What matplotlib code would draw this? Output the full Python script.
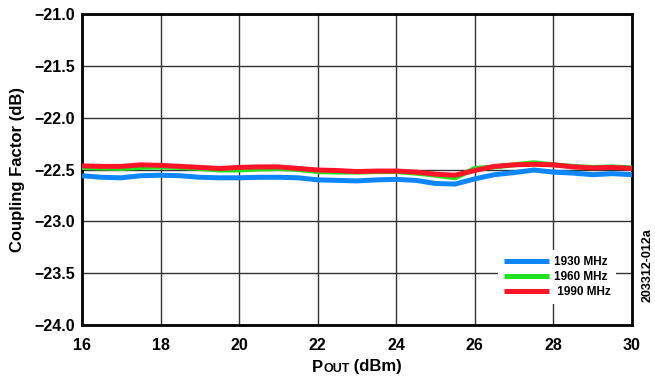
import matplotlib
matplotlib.use("Agg")
import matplotlib.pyplot as plt
from matplotlib import font_manager
from matplotlib.offsetbox import TextArea, HPacker, AnchoredOffsetbox

# Pick a narrow bold sans if present
available = {f.name for f in font_manager.fontManager.ttflist}
FAMILY = "Liberation Sans Narrow" if "Liberation Sans Narrow" in available else "Liberation Sans"
plt.rcParams["font.family"] = [FAMILY, "DejaVu Sans"]
plt.rcParams["font.weight"] = "bold"

pout_dbm = [16, 16.5, 17, 17.5, 18, 18.5, 19, 19.5, 20, 20.5, 21, 21.5, 22, 22.5,
            23, 23.5, 24, 24.5, 25, 25.5, 26, 26.5, 27, 27.5, 28, 28.5, 29, 29.5, 30]

cf_1930 = [-22.56, -22.575, -22.58, -22.56, -22.555, -22.56, -22.575, -22.58, -22.58,
           -22.575, -22.575, -22.58, -22.60, -22.605, -22.61, -22.60, -22.595, -22.605,
           -22.635, -22.64, -22.59, -22.55, -22.53, -22.505, -22.525, -22.535, -22.55,
           -22.54, -22.55]
cf_1960 = [-22.48, -22.485, -22.49, -22.48, -22.475, -22.48, -22.49, -22.505, -22.505,
           -22.495, -22.49, -22.50, -22.52, -22.525, -22.525, -22.52, -22.52, -22.535,
           -22.555, -22.58, -22.49, -22.475, -22.455, -22.435, -22.455, -22.47, -22.48,
           -22.475, -22.485]
cf_1990 = [-22.465, -22.47, -22.47, -22.455, -22.46, -22.47, -22.48, -22.49, -22.48,
           -22.475, -22.475, -22.49, -22.505, -22.51, -22.52, -22.515, -22.515, -22.525,
           -22.545, -22.555, -22.51, -22.47, -22.455, -22.45, -22.455, -22.475, -22.485,
           -22.48, -22.49]

series_labels = ["1930 MHz", "1960 MHz", " 1990 MHz"]
series_colors = ["#0d86ff", "#1fe31f", "#ff1428"]

x_ticks = [16, 18, 20, 22, 24, 26, 28, 30]
y_ticks = [-21.0, -21.5, -22.0, -22.5, -23.0, -23.5, -24.0]
y_ticklabels = ["\u221221.0", "\u221221.5", "\u221222.0", "\u221222.5",
                "\u221223.0", "\u221223.5", "\u221224.0"]

fig = plt.figure(figsize=(6.55, 3.85), dpi=100)
ax = fig.add_axes([82 / 655, 1 - 325 / 385, 550 / 655, 311 / 385])

for vals, lab, col in zip([cf_1930, cf_1960, cf_1990], series_labels, series_colors):
    ax.plot(pout_dbm, vals, color=col, lw=3.6, label=lab, solid_capstyle="butt",
            solid_joinstyle="round", zorder=3)

ax.set_xlim(16, 30)
ax.set_ylim(-24, -21)
ax.set_xticks(x_ticks)
ax.set_yticks(y_ticks)
ax.set_yticklabels(y_ticklabels)
ax.tick_params(length=0, labelsize=11.5)
ax.tick_params(axis="x", pad=9)
ax.tick_params(axis="y", pad=5)
for lbl in ax.get_xticklabels() + ax.get_yticklabels():
    lbl.set_fontweight("bold")

ax.grid(True, color="#333333", lw=1.0, zorder=1)
for sp in ax.spines.values():
    sp.set_linewidth(2.0)
    sp.set_color("black")

ax.set_ylabel("Coupling Factor (dB)", fontsize=12, fontweight="bold", labelpad=7)

leg = ax.legend(loc="lower right", bbox_to_anchor=(0.982, 0.05), frameon=True,
                fancybox=False, edgecolor="none", framealpha=1.0,
                prop={"size": 8.5, "weight": "bold"}, handlelength=3.8,
                handletextpad=0.4, labelspacing=0.25, borderpad=0.5)
leg.set_zorder(4)

# x-axis label with small-capital "OUT"
parts = [TextArea("P", textprops=dict(size=12, weight="bold")),
         TextArea("OUT", textprops=dict(size=9, weight="bold")),
         TextArea(" (dBm)", textprops=dict(size=12, weight="bold"))]
box = HPacker(children=parts, align="baseline", pad=0, sep=0)
anchored = AnchoredOffsetbox(loc="center", child=box, frameon=False,
                             bbox_to_anchor=(357 / 655, 1 - 367 / 385),
                             bbox_transform=fig.transFigure, borderpad=0, pad=0)
fig.add_artist(anchored)

fig.text(648 / 655, 1 - 265 / 385, "203312-012a", rotation=90, ha="center",
         va="center", fontsize=9, fontweight="bold")

fig.savefig("out.png", dpi=100)
